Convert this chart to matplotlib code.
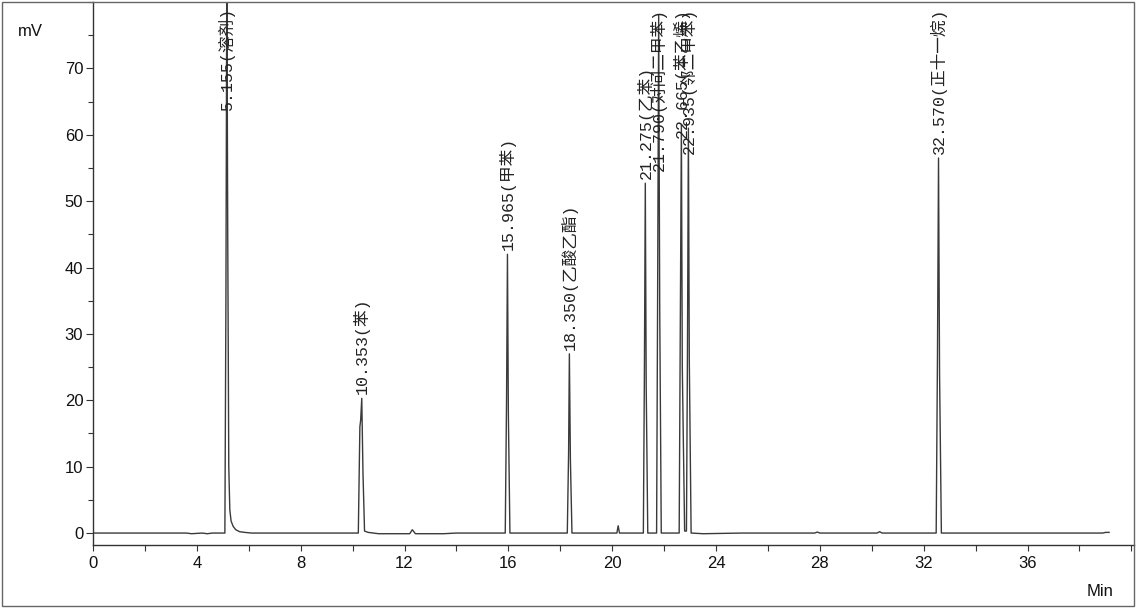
import matplotlib
matplotlib.use("Agg")
import matplotlib.pyplot as plt
from matplotlib.ticker import MultipleLocator
from matplotlib.patches import Rectangle

# ---- data ----
trace_time = [
    0.0, 3.6, 3.8, 4.2, 4.4, 4.6, 5.08,
    5.12, 5.155, 5.19, 5.23, 5.27, 5.32, 5.40, 5.50, 5.65, 5.85, 6.10, 6.80, 7.00,
    10.22, 10.28, 10.31, 10.353, 10.40, 10.46, 10.60, 11.00, 12.20, 12.30, 12.42, 13.50, 14.00,
    15.88, 15.93, 15.965, 16.00, 16.06,
    18.27, 18.32, 18.35, 18.39, 18.45,
    20.18, 20.23, 20.28,
    21.20, 21.24, 21.275, 21.31, 21.37,
    21.71, 21.75, 21.79, 21.83, 21.89,
    22.58, 22.62, 22.665, 22.70, 22.79, 22.86, 22.90, 22.935, 22.97, 23.04,
    23.50, 25.00, 27.80, 27.90, 28.00, 30.20, 30.30, 30.40,
    32.48, 32.53, 32.57, 32.61, 32.68, 33.00, 38.90, 39.00, 39.14,
]
trace_mv = [
    0.0, 0.0, -0.1, 0.0, -0.1, 0.0, 0.0,
    35.0, 86.0, 45.0, 10.0, 3.5, 1.8, 1.0, 0.5, 0.2, 0.1, 0.0, 0.0, 0.0,
    0.0, 16.0, 17.0, 20.3, 9.0, 0.3, 0.1, -0.1, -0.1, 0.5, -0.1, -0.1, 0.0,
    0.0, 20.0, 42.0, 18.0, 0.0,
    0.0, 12.0, 27.0, 11.0, 0.0,
    0.0, 1.1, 0.0,
    0.0, 24.0, 52.7, 22.0, 0.0,
    0.0, 36.0, 78.0, 34.0, 0.0,
    0.0, 29.0, 61.5, 25.0, 0.3, 0.3, 28.0, 61.0, 26.0, 0.0,
    -0.1, 0.0, 0.0, 0.15, 0.0, 0.0, 0.2, 0.0,
    0.0, 27.0, 56.5, 24.0, 0.0, 0.0, 0.0, 0.1, 0.1,
]

peak_rt = [5.155, 10.353, 15.965, 18.350, 21.275, 21.790, 22.665, 22.935, 32.570]
peak_height = [86.0, 20.3, 42.0, 27.0, 52.7, 78.0, 61.5, 61.0, 56.5]
peak_names = ["溶剂", "苯", "甲苯", "乙酸乙酯", "乙苯", "对间二甲苯", "苯乙烯", "邻二甲苯", "正十一烷"]

x_ticks = [0, 4, 8, 12, 16, 20, 24, 28, 32, 36]
y_ticks = [0, 10, 20, 30, 40, 50, 60, 70]

# ---- figure ----
W, H, DPI = 1136, 608, 100
fig = plt.figure(figsize=(W / DPI, H / DPI), dpi=DPI, facecolor="white")
plt.rcParams["font.family"] = ["Liberation Sans", "DejaVu Sans"]

ax_left = 93 / W
ax_right = 1134 / W
ax_bottom = (H - 545) / H
ax_top = (H - 2) / H
ax = fig.add_axes([ax_left, ax_bottom, ax_right - ax_left, ax_top - ax_bottom])

line_col = "#3a3a3a"
ax.plot(trace_time, trace_mv, color=line_col, lw=1.0, clip_on=True)

ax.set_xlim(0, 40.1)
ax.set_ylim(-1.8, 80.0)

for s in ("top", "right"):
    ax.spines[s].set_visible(False)
for s in ("left", "bottom"):
    ax.spines[s].set_color("#333333")
    ax.spines[s].set_linewidth(1.0)

ax.set_xticks(x_ticks)
ax.xaxis.set_minor_locator(MultipleLocator(2))
ax.set_yticks(y_ticks)
ax.yaxis.set_minor_locator(MultipleLocator(5))
ax.tick_params(axis="x", which="both", direction="out", length=4, width=0.8,
               color="#333333", labelsize=12, pad=4, labelcolor="#111111")
ax.tick_params(axis="y", which="major", direction="out", length=5, width=0.8,
               color="#333333", labelsize=12, pad=2, labelcolor="#111111")
ax.tick_params(axis="y", which="minor", direction="out", length=3.5, width=0.8,
               color="#333333")

fig.text(18 / W, 1 - 32 / H, "mV", fontsize=12, ha="left", va="center", color="#111111")
fig.text(1100 / W, 1 - 591 / H, "Min", fontsize=12, ha="center", va="center", color="#111111")

# figure border
fig.patches.append(Rectangle((2 / W, 2 / H), 1132 / W, 604 / H, transform=fig.transFigure,
                             fill=False, edgecolor="#666666", lw=1.0))

# peak labels
ymax = ax.get_ylim()[1]
labels = []
for rt, h, name in zip(peak_rt, peak_height, peak_names):
    t = ax.annotate(f"{rt:.3f}({name})", xy=(rt, min(h, ymax)), xytext=(0, 3),
                    textcoords="offset points", rotation=90, ha="center", va="bottom",
                    fontsize=12, color="#222222", annotation_clip=False,
                    family=["Liberation Mono", "Noto Sans CJK SC"])
    labels.append(t)

fig.canvas.draw()
r = fig.canvas.get_renderer()
top_px = ax.get_window_extent(r).y1 - 6
for t in labels:
    bb = t.get_window_extent(r)
    if bb.y1 > top_px:
        shift_pts = (bb.y1 - top_px) * 72 / DPI
        x0, y0 = t.xyann
        t.xyann = (x0, y0 - shift_pts)

fig.savefig("out.png", dpi=DPI, facecolor="white")
